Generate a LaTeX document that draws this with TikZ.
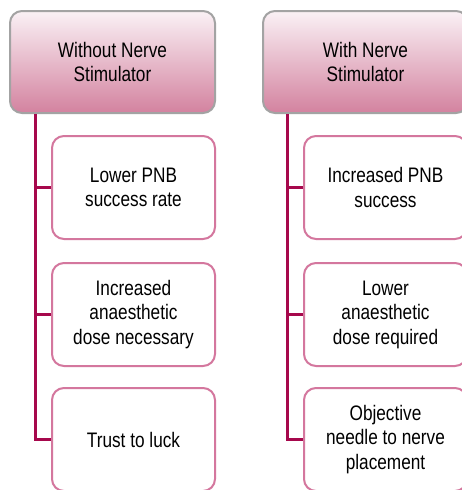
\documentclass[tikz,border=0pt]{standalone}
\usepackage{fontspec}
\newfontfamily\diagfont[FakeStretch=0.82]{Liberation Sans}
\definecolor{hdrtop}{HTML}{FAF1F5}
\definecolor{hdrbot}{HTML}{D3829F}
\definecolor{hdrborder}{HTML}{A3A3A3}
\definecolor{kidborder}{HTML}{D4779E}
\definecolor{connred}{HTML}{A6084C}
\tikzset{
  header/.style={draw=hdrborder, line width=2pt, rounded corners=12pt,
    top color=hdrtop, bottom color=hdrbot,
    minimum width=205pt, minimum height=102pt, inner sep=0pt,
    align=center, text=black, font=\diagfont\fontsize{21}{24}\selectfont},
  kid/.style={draw=kidborder, line width=2pt, rounded corners=12pt, fill=white,
    minimum width=163pt, minimum height=103pt, inner sep=0pt,
    align=center, text=black, font=\diagfont\fontsize{21}{24.5}\selectfont},
  conn/.style={draw=connred, line width=3pt}
}
\begin{document}
\begin{tikzpicture}[x=1pt,y=1pt]
\useasboundingbox (0,0) rectangle (461,-490);
\fill[white] (0,0) rectangle (461,-490);
\coordinate (l1) at (35,-113);
\coordinate (l2) at (287,-113);
\node[header] (h1) at (112.5,-62) {Without Nerve\\Stimulator};
\node[header] (h2) at (365.5,-62) {With Nerve\\Stimulator};
\node[kid] (a1) at (133.5,-187.5) {Lower PNB\\success rate};
\node[kid] (a2) at (133.5,-314.5) {Increased\\anaesthetic\\dose necessary};
\node[kid] (a3) at (133.5,-439.5) {Trust to luck};
\node[kid] (b1) at (385.5,-187.5) {Increased PNB\\success};
\node[kid] (b2) at (385.5,-314.5) {Lower\\anaesthetic\\dose required};
\node[kid] (b3) at (385.5,-439.5) {Objective\\needle to nerve\\placement};
\draw[conn] (l1 |- h1.south) |- (a3.west);
\draw[conn] (l2 |- h2.south) |- (b3.west);
\draw[conn] (a1.west) -- (a1.west -| l1);
\draw[conn] (a2.west) -- (a2.west -| l1);
\draw[conn] (b1.west) -- (b1.west -| l2);
\draw[conn] (b2.west) -- (b2.west -| l2);
\end{tikzpicture}
\end{document}
